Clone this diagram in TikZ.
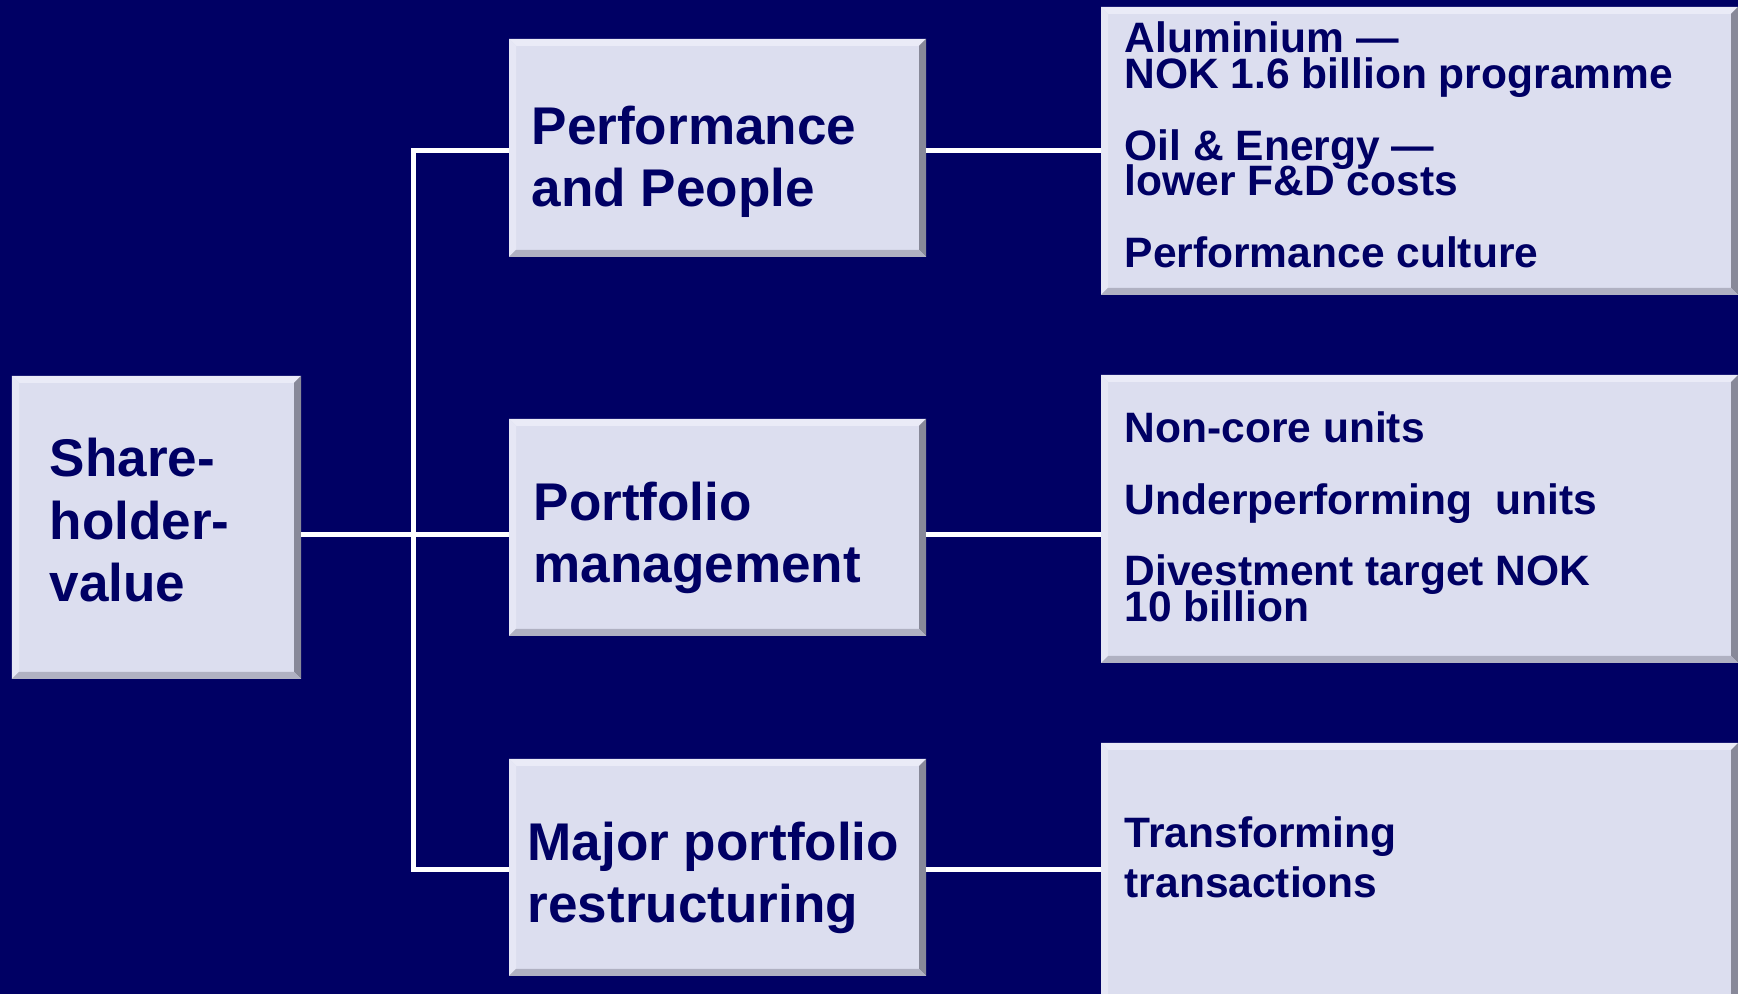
\documentclass[tikz,border=0pt]{standalone}
\usepackage{fontspec}
\setmainfont{Liberation Sans}

\definecolor{navy}{RGB}{0,0,100}
\definecolor{boxfill}{RGB}{220,222,239}
\definecolor{bevtop}{RGB}{234,235,247}
\definecolor{bevleft}{RGB}{230,231,245}
\definecolor{bevright}{RGB}{136,137,153}
\definecolor{bevbottom}{RGB}{176,177,194}

% raised edges of a box
\newcommand{\bevel}[1]{%
  \fill[bevtop] (#1.north west) -- (#1.north east) -- ([shift={(-0.07,-0.07)}]#1.north east) -- ([shift={(0.07,-0.07)}]#1.north west) -- cycle;
  \fill[bevleft] (#1.north west) -- (#1.south west) -- ([shift={(0.07,0.07)}]#1.south west) -- ([shift={(0.07,-0.07)}]#1.north west) -- cycle;
  \fill[bevright] (#1.north east) -- (#1.south east) -- ([shift={(-0.07,0.07)}]#1.south east) -- ([shift={(-0.07,-0.07)}]#1.north east) -- cycle;
  \fill[bevbottom] (#1.south west) -- (#1.south east) -- ([shift={(-0.07,0.07)}]#1.south east) -- ([shift={(0.07,0.07)}]#1.south west) -- cycle;
}
\newcommand{\tightlines}{\setlength{\lineskiplimit}{-20pt}}

\tikzset{
  box/.style={rectangle, fill=boxfill, inner sep=0pt, outer sep=0pt, anchor=south west},
  link/.style={draw=white, line width=0.05cm},
  bigtext/.style={anchor=base west, inner sep=0pt, align=left, text=navy,
    font=\fontsize{15.1}{17.9}\selectfont\bfseries\tightlines},
  smalltext/.style={anchor=base west, inner sep=0pt, align=left, text=navy,
    font=\fontsize{12.1}{10.24}\selectfont\bfseries\tightlines},
}

\begin{document}
\begin{tikzpicture}
    \useasboundingbox (0,0) rectangle (17.38,9.94);
    \fill [navy] (0,0) rectangle (17.38,9.94);

    % left column
    \node [box, minimum width=2.89cm, minimum height=3.03cm] (share) at (0.12,3.15) {};

    % middle column
    \node [box, minimum width=4.17cm, minimum height=2.18cm] (perf) at (5.09,7.37) {};
    \node [box, minimum width=4.17cm, minimum height=2.17cm] (port) at (5.09,3.58) {};
    \node [box, minimum width=4.17cm, minimum height=2.17cm] (major) at (5.09,0.18) {};

    % right column
    \node [box, minimum width=6.37cm, minimum height=2.88cm] (alu) at (11.01,6.99) {};
    \node [box, minimum width=6.37cm, minimum height=2.88cm] (noncore) at (11.01,3.31) {};
    \node [box, minimum width=6.37cm, minimum height=2.81cm] (trans) at (11.01,-0.30) {};

    \bevel{share}
    \bevel{perf}
    \bevel{port}
    \bevel{major}
    \bevel{alu}
    \bevel{noncore}
    \bevel{trans}

    % connectors
    \coordinate (hub) at (4.13,4.59);
    \coordinate (top) at (4.13,8.43);
    \coordinate (bot) at (4.13,1.24);

    \draw [link] (perf.west |- top) -- (top) -- (bot) -- (major.west |- bot);
    \draw [link] (share.east |- hub) -- (port.west |- hub);
    \draw [link] (perf.east |- top) -- (alu.west |- top);
    \draw [link] (port.east |- hub) -- (noncore.west |- hub);
    \draw [link] (major.east |- bot) -- (trans.west |- bot);

    % texts (base = last line)
    \node [bigtext] (share-txt) at (0.49,3.92) {Share-\\holder-\\value};
    \node [bigtext] (perf-txt) at (5.31,7.87) {Performance\\and People};
    \node [bigtext] (port-txt) at (5.33,4.11) {Portfolio\\management};
    \node [bigtext] (major-txt) at (5.27,0.71) {Major portfolio\\restructuring};

    \node [smalltext] (alu-txt) at (11.24,7.26)
        {Aluminium —\\NOK 1.6 billion programme\\[10.24pt]Oil \& Energy —\\lower F\&D costs\\[10.24pt]Performance culture};
    \node [smalltext] (noncore-txt) at (11.24,3.72)
        {Non-core units\\[10.24pt]Underperforming\ \ units\\[10.24pt]Divestment target NOK\\10 billion};
    \node [smalltext] (trans-txt) at (11.24,0.96)
        {Transforming\\[4pt]transactions};
\end{tikzpicture}
\end{document}
